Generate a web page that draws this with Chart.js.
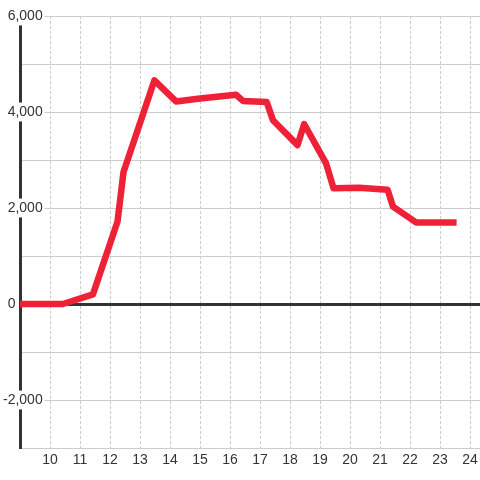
<!DOCTYPE html>
<html>
<head>
<meta charset="utf-8">
<script src="https://cdn.jsdelivr.net/npm/chart.js@4.4.1/dist/chart.umd.min.js"></script>
<style>
    html, body { margin: 0; padding: 0; background: #fff; }
    #wrap { width: 480px; height: 480px; }
</style>
</head>
<body>
<div id="wrap"><canvas id="lineChart"></canvas></div>
<script>
//データ（時刻と値）
var hours = [8.9, 10.43, 11.43, 12.25, 12.45, 13.48, 14.2, 15.0, 16.2, 16.43, 17.22, 17.43, 18.25, 18.47, 19.2, 19.45, 20.3, 21.25, 21.43, 22.2, 23.55];
var values = [0, 0, 200, 1720, 2750, 4660, 4220, 4280, 4360, 4230, 4210, 3830, 3310, 3750, 2930, 2410, 2420, 2380, 2030, 1700, 1700];

//軸の範囲と目盛り
var xMin = 9;
var xMax = 24.33;
var xFirstLabel = 10;
var yMin = -3000;
var yMax = 6000;
var yGridStep = 1000;
var yLabelStep = 2000;

var points = [];
for (var i = 0; i < hours.length; i++) {
    points.push({ x: hours[i], y: values[i] });
}

Chart.defaults.font.family = "'Liberation Sans', Arial, sans-serif";
Chart.defaults.font.size = 14;
Chart.defaults.color = '#333';

//y軸のラベル（0だけ軸の左側に置く）
function yLabel(v) {
    if (v % yLabelStep !== 0) return '';
    if (v === 0) return '0       ';
    return v.toLocaleString('en-US');
}

const config = {
    type: 'line',
    data: {
        datasets: [{
            data: points,
            borderColor: 'rgb(238, 33, 55)',
            borderWidth: 6.5,
            borderJoinStyle: 'round',
            pointRadius: 0,
            tension: 0,
            fill: false
        }]
    },
    options: {
        responsive: true,
        maintainAspectRatio: false,
        animation: false,
        devicePixelRatio: 1,
        layout: { padding: { top: 16, right: 0, bottom: 0, left: 0 } },
        plugins: {
            legend: { display: false },
            tooltip: { enabled: false }
        },
        scales: {
            x: {
                type: 'linear',
                min: xMin,
                max: xMax,
                afterFit: function (s) {
                    s.height = 32;
                    s.paddingLeft = 0;
                    s.paddingRight = 0;
                },
                ticks: {
                    stepSize: 1,
                    includeBounds: false,
                    padding: 4,
                    maxRotation: 0,
                    callback: function (v) { return v >= xFirstLabel ? String(v) : null; }
                },
                grid: { color: '#ccc', lineWidth: 1, drawTicks: false },
                border: { display: false, dash: [3, 2] }
            },
            y: {
                min: yMin,
                max: yMax,
                afterFit: function (s) { s.width = 20; },
                ticks: {
                    stepSize: yGridStep,
                    mirror: true,
                    crossAlign: 'far',
                    padding: -17,
                    z: 1,
                    showLabelBackdrop: function (ctx) {
                        return ctx.tick.value !== 0 && ctx.tick.value % yLabelStep === 0;
                    },
                    backdropColor: '#fff',
                    backdropPadding: { top: 1, bottom: 1, left: 2, right: 2 },
                    callback: yLabel
                },
                grid: {
                    drawTicks: false,
                    color: function (ctx) { return ctx.tick && ctx.tick.value === 0 ? '#333' : '#ccc'; },
                    lineWidth: function (ctx) { return ctx.tick && ctx.tick.value === 0 ? 3 : 1; }
                },
                border: { display: true, color: '#333', width: 3 }
            }
        }
    }
};

//chart図を作成する
var lineChart = new Chart(document.getElementById('lineChart'), config);
</script>
</body>
</html>
